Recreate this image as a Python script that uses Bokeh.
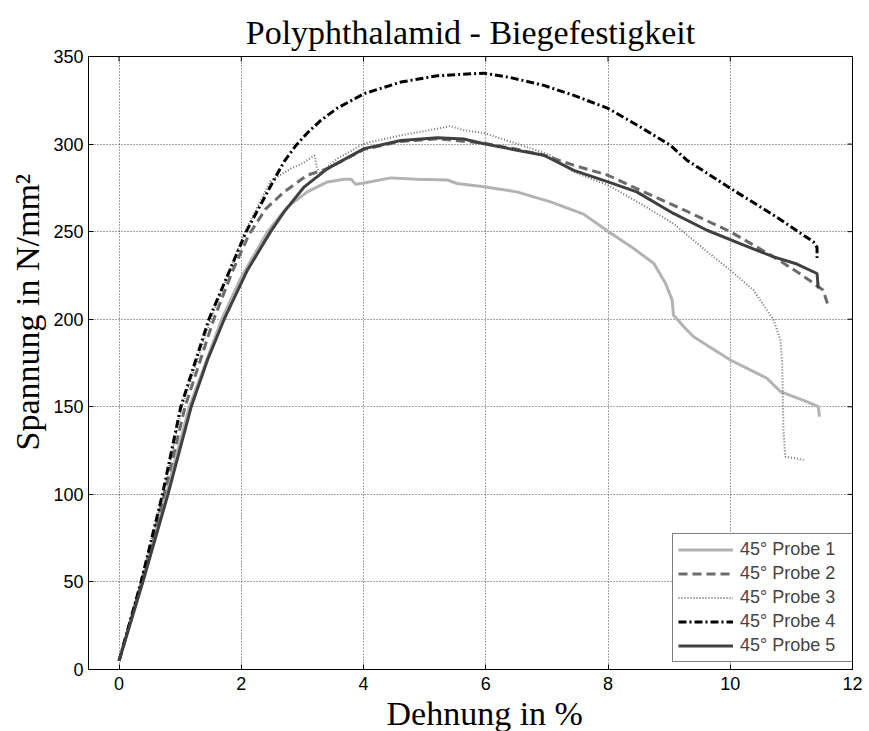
from bokeh.embed import file_html
from bokeh.models import FixedTicker, Legend, LegendItem, Range1d, Title
from bokeh.plotting import figure
from bokeh.resources import INLINE

# Dehnung in % / Spannung in N/mm^2 for the five 45° specimens
probe1_x = [0, 0.37, 0.77, 1.15, 1.68, 2.0, 2.43, 2.75, 3.08, 3.41, 3.68, 3.8,
            3.87, 4.01, 4.44, 4.88, 5.37, 5.53, 5.97, 6.51, 7.06, 7.6, 8.01,
            8.42, 8.75, 8.94, 9.05, 9.07, 9.24, 9.4, 10.0, 10.6, 10.82, 11.25,
            11.44, 11.46]
probe1_y = [5, 50, 100, 150, 200, 224, 250, 264, 272.7, 278.4, 279.9, 279.9,
            277, 277.8, 280.7, 279.9, 279.5, 277.5, 275.6, 272.7, 267, 260,
            249.9, 240.4, 231.8, 220.5, 210.9, 202.4, 195.7, 190, 176.7, 166.3,
            158.7, 153, 150.1, 144.4]

probe2_x = [0, 0.37, 0.74, 1.08, 1.55, 1.85, 2.12, 2.4, 2.7, 3.08, 3.41, 4.01,
            4.61, 5.21, 5.97, 6.51, 6.95, 7.44, 8.0, 8.53, 9.13, 10.0, 10.71,
            11.14, 11.52, 11.59]
probe2_y = [5, 50, 100, 150, 200, 227, 248, 263, 272.7, 282.2, 286, 297,
            301.5, 303, 300.5, 297, 293.6, 287.9, 282.2, 273.6, 264.2, 250,
            235.6, 226, 216.6, 209]

probe3_x = [0, 0.36, 0.72, 1.03, 1.5, 2.06, 2.48, 2.81, 3.0, 3.2, 3.24, 3.3,
            3.57, 4.01, 4.61, 5.21, 5.42, 5.64, 5.97, 6.51, 7.06, 7.44, 8.0,
            8.53, 9.07, 9.62, 10.0, 10.38, 10.71, 10.82, 10.85, 10.86, 10.87,
            10.9, 11.2]
probe3_y = [5, 50, 100, 150, 200, 250, 279, 286, 289, 293.5, 286, 283.5,
            291.7, 300.3, 305, 308.8, 310.3, 307.9, 306.3, 300.2, 293.6, 284,
            276.5, 266, 254.6, 238.6, 228, 216.6, 199.5, 188.1, 174.9, 155.8,
            136.8, 121.6, 119.7]

probe4_x = [0, 0.36, 0.71, 1.01, 1.47, 2.08, 2.48, 2.7, 2.9, 3.1, 3.3, 3.57,
            4.01, 4.61, 5.21, 5.97, 6.4, 6.95, 7.44, 8.0, 8.53, 9.02, 9.29,
            10.0, 10.71, 11.36, 11.42, 11.42]
probe4_y = [5, 50, 100, 150, 200, 250, 276, 290, 299.5, 307, 313.5, 320.5,
            328.8, 335.4, 339, 340.5, 338, 333.5, 327.8, 320.4, 309.7, 299.3,
            290.8, 274.8, 259.4, 244.2, 241, 234.9]

probe5_x = [0, 0.39, 0.8, 1.18, 1.45, 1.72, 2.1, 2.48, 2.7, 3.03, 3.41, 4.01,
            4.61, 5.21, 5.64, 5.97, 6.51, 6.95, 7.44, 8.0, 8.47, 9.07, 9.62,
            10.16, 10.71, 11.09, 11.42, 11.44]
probe5_y = [5, 50, 100, 150, 177, 200, 228, 250, 261.3, 275.6, 286, 297.4,
            302, 303.6, 302.9, 300.2, 296.5, 293.6, 285, 278.4, 272.7, 260.4,
            250.8, 243.2, 235.6, 231.5, 226.1, 217.6]

series_names = ["45° Probe 1", "45° Probe 2", "45° Probe 3", "45° Probe 4",
                "45° Probe 5"]
x_ticks = [0, 2, 4, 6, 8, 10, 12]
y_ticks = [0, 50, 100, 150, 200, 250, 300, 350]

X_MIN, X_MAX = -0.5, 12
Y_MIN, Y_MAX = 0, 350

SERIF = "Liberation Serif"
SANS = "Liberation Sans"

p = figure(width=869, height=731, output_backend="svg", toolbar_location=None,
           x_range=Range1d(X_MIN, X_MAX), y_range=Range1d(Y_MIN, Y_MAX),
           min_border_left=88, min_border_right=17, min_border_top=56,
           min_border_bottom=61, background_fill_color="white",
           border_fill_color="white")

p.outline_line_color = "black"
p.outline_line_width = 1

# title
p.title.text = "Polyphthalamid - Biegefestigkeit"
p.title.align = "center"
p.title.text_font = SERIF
p.title.text_font_size = "34px"
p.title.text_font_style = "normal"
p.title.text_color = "black"
p.title.standoff = 12

# axis titles
xlabel = Title(text="Dehnung in %", align="left", offset=298,
               text_font=SERIF, text_font_size="34px",
               text_font_style="normal", text_color="black", standoff=0)
ylabel = Title(text="Spannung in N/mm²", align="left", offset=219,
               text_font=SERIF, text_font_size="34px",
               text_font_style="normal", text_color="black", standoff=10)
p.add_layout(xlabel, "below")
p.add_layout(ylabel, "left")

# main axes: ticks pointing into the frame
for ax, ticks in ((p.xaxis[0], x_ticks), (p.yaxis[0], y_ticks)):
    ax.ticker = FixedTicker(ticks=ticks)
    ax.major_tick_in = 5
    ax.major_tick_out = 0
    ax.minor_tick_line_color = None
    ax.axis_line_color = "black"
    ax.major_tick_line_color = "black"
    ax.major_label_text_font = SANS
    ax.major_label_text_font_size = "18px"
    ax.major_label_text_color = "black"
p.xaxis[0].major_label_standoff = 7
p.yaxis[0].major_label_standoff = 5

# mirrored tick marks along the top and right edges (outer half is clipped)
p.scatter(x_ticks, [Y_MAX] * len(x_ticks), marker="dash", angle=1.5707963,
          size=10, line_color="black", line_width=1)
p.scatter([X_MAX] * len(y_ticks), y_ticks, marker="dash", size=10,
          line_color="black", line_width=1)

# dotted grid
for g in (p.xgrid[0], p.ygrid[0]):
    g.grid_line_color = "black"
    g.grid_line_alpha = 0.7
    g.grid_line_dash = "1 2"
    g.grid_line_width = 1
p.xgrid[0].ticker = FixedTicker(ticks=x_ticks)
p.ygrid[0].ticker = FixedTicker(ticks=y_ticks)

styles = [
    dict(line_color="#b3b3b3", line_width=3, line_dash="solid"),
    dict(line_color="#6b6b6b", line_width=3, line_dash="9 5"),
    dict(line_color="#707070", line_width=2, line_dash="1 2"),
    dict(line_color="black", line_width=3, line_dash="8 3 2 3"),
    dict(line_color="#404040", line_width=3, line_dash="solid"),
]
data = [(probe1_x, probe1_y), (probe2_x, probe2_y), (probe3_x, probe3_y),
        (probe4_x, probe4_y), (probe5_x, probe5_y)]

items = []
for name, (xs, ys), st in zip(series_names, data, styles):
    r = p.line(xs, ys, **st)
    items.append(LegendItem(label=name, renderers=[r]))

legend = Legend(items=items, location=(584, 7), border_line_color="black",
                border_line_width=1, background_fill_color="white",
                background_fill_alpha=1, label_text_font=SANS,
                label_text_font_size="18px", glyph_width=55, glyph_height=21,
                label_height=21, label_width=108, spacing=3, padding=5,
                margin=0, label_standoff=7)
p.add_layout(legend, "center")

open("out.html", "w").write(file_html(p, INLINE))
